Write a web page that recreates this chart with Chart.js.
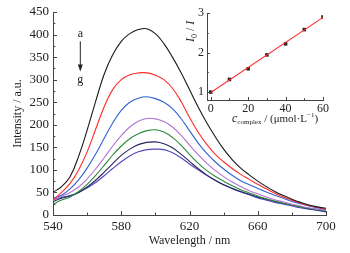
<!DOCTYPE html>
<html>
<head>
<meta charset="utf-8">
<script src="https://cdn.jsdelivr.net/npm/chart.js@4"></script>
<style>
  body { margin: 0; background: #fff; }
  #wrap { position: relative; width: 350px; height: 253px; }
  #main { position: absolute; left: 0; top: 0; }
  #inset { position: absolute; left: 180px; top: 0; }
</style>
</head>
<body>
<div id="wrap">
  <canvas id="main" width="350" height="253"></canvas>
  <canvas id="inset" width="170" height="125"></canvas>
</div>
<script>
// emission spectra a..g (intensity in a.u.)
const wavelengths = [540,545,550,555,560,565,570,575,580,585,590,595,600,605,610,615,620,625,630,635,640,645,650,655,660,665,670,675,680,685,690,695,700]
const curveA = [50,63,85,130,188,252,312,355,385,402,411,413,402,380,350,316,278,240,205,174,146,123,104,89,75,63,52,43,35,28,22,18,15]
const curveB = [33,50,70,100,140,190,240,278,300,311,315,315,310,300,281,252,216,184,157,135,118,103,90,79,68,58,48,40,33,26,21,17,13]
const curveC = [37,44,58,78,104,135,170,204,232,250,259,262,258,250,236,214,187,160,137,118,102,88,76,67,59,51,44,37,30,25,20,16,12]
const curveD = [32,41,50,62,80,102,127,153,176,195,208,214,213,207,195,177,155,134,115,99,85,73,63,54,47,40,34,29,24,20,16,13,10]
const curveE = [24,33,40,52,68,88,110,133,153,169,180,187,189,184,172,155,134,115,99,86,75,65,56,49,42,36,31,26,22,18,15,12,9]
const curveF = [30,37,42,50,62,77,95,114,132,146,156,161,162,158,149,135,119,103,89,77,67,59,52,46,40,35,30,26,22,18,14,11,8]
const curveG = [33,39,43,50,60,72,87,103,118,131,140,145,146,145,138,127,113,100,88,77,67,59,51,45,38,33,28,24,20,16,13,10,7]
const curveColors = ['#1a1a1a','#ff2a2a','#2f62d2','#b372d2','#2c8a3c','#27275e','#5349bb']

const xTicks = [540,580,620,660,700]
const xMinor = [560,600,640,680]
const yTicks = [0,50,100,150,200,250,300,350,400,450]
const yMinor = [25,75,125,175,225,275,325,375,425]

// inset: I0/I against complex concentration
const conc = [0,10,20,30,40,50,60]
const ratio = [1.0,1.32,1.59,1.94,2.22,2.58,2.9]
const fitConc = [0,60]
const fitRatio = [0.99,2.89]
const insetXTicks = [0,20,40,60]
const insetXMinor = [10,30,50]
const insetYTicks = [1,2,3]
const insetYMinor = [1.5,2.5]

const serif = "'Liberation Serif', 'DejaVu Serif', serif"
const axisColor = '#444'

function toPoints(xs, ys) {
    return xs.map((x, i) => ({x: x, y: ys[i]}))
}

function drawTickMarks(chart, xMajor, xMin, yMajor, yMin, len) {
    const ctx = chart.ctx
    const xs = chart.scales.x
    const ys = chart.scales.y
    const area = chart.chartArea
    ctx.save()
    ctx.strokeStyle = axisColor
    ctx.lineWidth = 1
    ctx.beginPath()
    xMajor.concat(xMin).forEach((v, i) => {
        const px = Math.round(xs.getPixelForValue(v)) + 0.5
        const l = i < xMajor.length ? len : len * 0.6
        ctx.moveTo(px, area.bottom)
        ctx.lineTo(px, area.bottom - l)
    })
    yMajor.concat(yMin).forEach((v, i) => {
        const py = Math.round(ys.getPixelForValue(v)) + 0.5
        const l = i < yMajor.length ? len : len * 0.6
        ctx.moveTo(area.left, py)
        ctx.lineTo(area.left + l, py)
    })
    ctx.stroke()
    ctx.restore()
}

const mainTicks = {
    id: 'mainTicks',
    afterDraw(chart) {
        drawTickMarks(chart, xTicks, xMinor, yTicks, yMinor, 4)
        // a -> g arrow
        const ctx = chart.ctx
        const px = chart.scales.x.getPixelForValue(556)
        const ys = chart.scales.y
        ctx.save()
        ctx.fillStyle = '#222'
        ctx.strokeStyle = '#222'
        ctx.font = '12px ' + serif
        ctx.textAlign = 'center'
        ctx.textBaseline = 'middle'
        ctx.fillText('a', px, ys.getPixelForValue(402))
        ctx.fillText('g', px, ys.getPixelForValue(300))
        const y1 = ys.getPixelForValue(385)
        const y2 = ys.getPixelForValue(318)
        ctx.beginPath()
        ctx.moveTo(px, y1)
        ctx.lineTo(px, y2 - 6)
        ctx.stroke()
        ctx.beginPath()
        ctx.moveTo(px - 2.5, y2 - 7)
        ctx.lineTo(px + 2.5, y2 - 7)
        ctx.lineTo(px, y2)
        ctx.closePath()
        ctx.fill()
        ctx.restore()
    }
}

const insetExtras = {
    id: 'insetExtras',
    afterDraw(chart) {
        drawTickMarks(chart, insetXTicks, insetXMinor, insetYTicks, insetYMinor, 3)
        const ctx = chart.ctx
        ctx.save()
        ctx.fillStyle = '#222'
        ctx.textBaseline = 'alphabetic'
        // y title: I0 / I
        ctx.translate(14, 42)
        ctx.rotate(-Math.PI / 2)
        let x = 0
        ctx.font = 'italic 12px ' + serif
        ctx.fillText('I', x, 0); x += ctx.measureText('I').width
        ctx.font = '8px ' + serif
        ctx.fillText('0', x, 3); x += ctx.measureText('0').width
        ctx.font = '12px ' + serif
        ctx.fillText(' / ', x, 0); x += ctx.measureText(' / ').width
        ctx.font = 'italic 12px ' + serif
        ctx.fillText('I', x, 0)
        ctx.restore()

        // x title: c_complex / (umol L-1)
        ctx.save()
        ctx.fillStyle = '#222'
        ctx.textBaseline = 'alphabetic'
        x = 52
        const y = 122
        ctx.font = 'italic 12px ' + serif
        ctx.fillText('c', x, y); x += ctx.measureText('c').width
        ctx.font = '7px ' + serif
        ctx.fillText('complex', x, y + 2); x += ctx.measureText('complex').width
        ctx.font = '11px ' + serif
        ctx.fillText(' / (μmol·L', x, y); x += ctx.measureText(' / (μmol·L').width
        ctx.font = '7px ' + serif
        ctx.fillText('−1', x, y - 5); x += ctx.measureText('−1').width
        ctx.font = '11px ' + serif
        ctx.fillText(')', x, y)
        ctx.restore()
    }
}

const curves = [curveA, curveB, curveC, curveD, curveE, curveF, curveG]

new Chart(document.getElementById('main'), {
    type: 'line',
    data: {
        datasets: curves.map((c, i) => ({
            data: toPoints(wavelengths, c),
            borderColor: curveColors[i],
            borderWidth: 1.1,
            pointRadius: 0,
            tension: 0.4,
            fill: false
        }))
    },
    options: {
        responsive: false,
        animation: false,
        devicePixelRatio: 1,
        layout: { padding: { left: 0, top: 12, right: 24, bottom: 0 } },
        plugins: { legend: { display: false }, tooltip: { enabled: false } },
        scales: {
            x: {
                type: 'linear', min: 540, max: 700,
                afterBuildTicks: s => { s.ticks = xTicks.map(v => ({value: v})) },
                afterFit: s => { s.height = 38 },
                grid: { display: false, drawTicks: false },
                border: { display: true, color: axisColor, width: 1 },
                ticks: { color: '#222', font: { family: serif, size: 13 }, padding: 4, maxRotation: 0 },
                title: { display: true, text: 'Wavelength / nm', color: '#222', font: { family: serif, size: 12 }, padding: { top: 0, bottom: 5 } }
            },
            y: {
                min: 0, max: 450,
                afterBuildTicks: s => { s.ticks = yTicks.map(v => ({value: v})) },
                afterFit: s => { s.width = 53 },
                grid: { display: false, drawTicks: false },
                border: { display: true, color: axisColor, width: 1 },
                ticks: { color: '#222', font: { family: serif, size: 13 }, padding: 4 },
                title: { display: true, text: 'Intensity / a.u.', color: '#222', font: { family: serif, size: 12 }, padding: { top: 11, bottom: 0 } }
            }
        }
    },
    plugins: [mainTicks]
})

new Chart(document.getElementById('inset'), {
    type: 'line',
    data: {
        datasets: [{
            data: toPoints(fitConc, fitRatio),
            borderColor: '#ff3030',
            borderWidth: 1.1,
            pointRadius: 0,
            fill: false
        }, {
            data: toPoints(conc, ratio),
            showLine: false,
            pointStyle: 'rect',
            pointRadius: 2.5,
            backgroundColor: '#222',
            borderColor: '#222',
            borderWidth: 0
        }]
    },
    options: {
        responsive: false,
        animation: false,
        devicePixelRatio: 1,
        layout: { padding: { left: 0, top: 13, right: 27, bottom: 0 } },
        plugins: { legend: { display: false }, tooltip: { enabled: false } },
        scales: {
            x: {
                type: 'linear', min: -2, max: 60,
                afterBuildTicks: s => { s.ticks = insetXTicks.map(v => ({value: v})) },
                afterFit: s => { s.height = 25 },
                grid: { display: false, drawTicks: false },
                border: { display: true, color: axisColor, width: 1 },
                ticks: { color: '#222', font: { family: serif, size: 12 }, padding: 2, maxRotation: 0 }
            },
            y: {
                min: 0.8, max: 3,
                afterBuildTicks: s => { s.ticks = insetYTicks.map(v => ({value: v})) },
                afterFit: s => { s.width = 27 },
                grid: { display: false, drawTicks: false },
                border: { display: true, color: axisColor, width: 1 },
                ticks: { color: '#222', font: { family: serif, size: 12 }, padding: 3 }
            }
        }
    },
    plugins: [insetExtras]
})
</script>
</body>
</html>
